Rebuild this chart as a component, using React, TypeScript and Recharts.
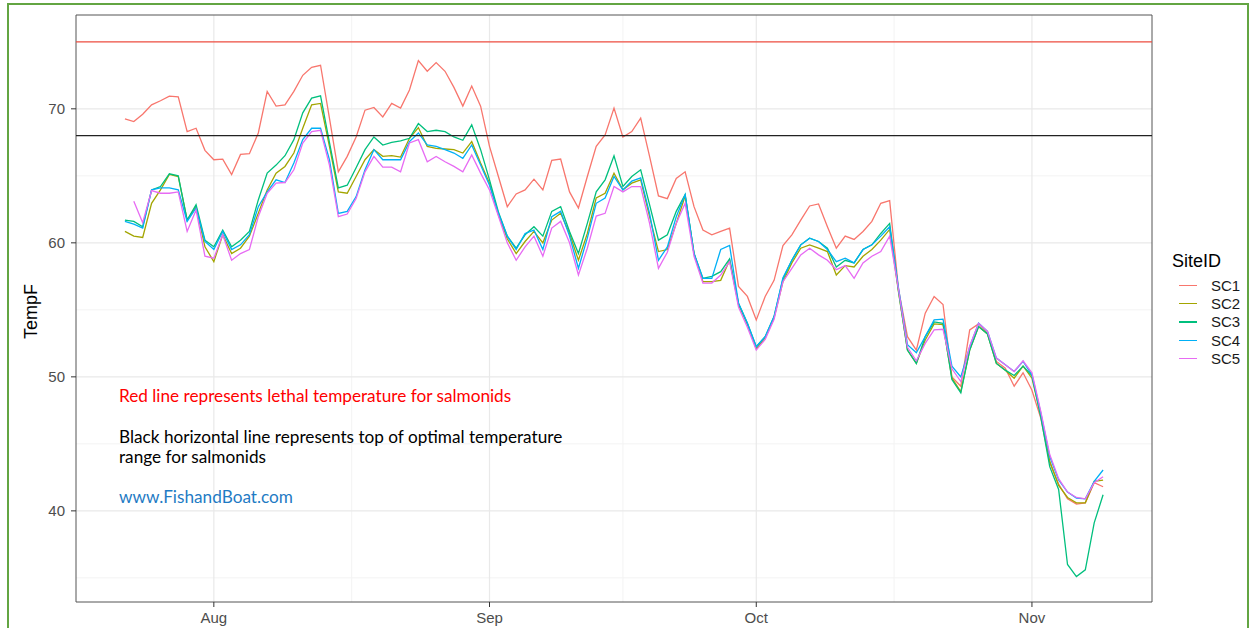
import React from 'react';
import {
  LineChart,
  Line,
  XAxis,
  YAxis,
  CartesianGrid,
  ReferenceLine,
  ReferenceArea,
} from 'recharts';

// daily mean water temperature (F) per site, 22 Jul .. 9 Nov
const sc1 = [
  69.25, 69.05, 69.6, 70.3, 70.6, 70.95, 70.9, 68.3, 68.55, 66.9,
  66.2, 66.25, 65.1, 66.6, 66.65, 68.2, 71.3, 70.2, 70.3, 71.3,
  72.5, 73.1, 73.25, 69.3, 65.3, 66.45, 67.9, 69.9, 70.1, 69.4,
  70.4, 70.05, 71.4, 73.6, 72.8, 73.45, 72.8, 71.6, 70.2, 71.7,
  70.2, 67.2, 64.95, 62.7, 63.65, 63.95, 64.75, 63.95, 66.15, 66.25,
  63.8, 62.6, 64.95, 67.2, 68.05, 70.05, 67.9, 68.3, 69.3, 66.45,
  63.5, 63.3, 64.8, 65.3, 62.7, 60.95, 60.6, 60.85, 61.1, 56.75,
  56.0, 54.25, 56.0, 57.2, 59.8, 60.6, 61.7, 62.75, 62.9, 61.2,
  59.6, 60.5, 60.25, 60.85, 61.6, 62.95, 63.15, 56.5, 53.0, 52.0,
  54.75, 56.0, 55.4, 50.0, 49.3, 53.5, 53.95, 53.25, 51.15, 50.65,
  49.3, 50.3, 49.0, 46.9, 43.6, 42.0, 40.9, 40.5, 40.6, 42.1,
  41.8,
];

const sc2 = [
  60.85, 60.5, 60.4, 62.95, 63.95, 65.1, 64.95, 61.7, 62.7, 59.7,
  58.6, 60.6, 59.2, 59.6, 60.5, 62.2, 63.95, 65.2, 65.7, 66.7,
  68.55, 70.3, 70.4, 67.2, 63.8, 63.7, 64.95, 66.2, 66.95, 66.45,
  66.5, 66.4, 67.8, 68.6, 67.2, 67.05, 67.0, 66.95, 66.7, 67.55,
  65.95, 64.45, 62.1, 60.3, 59.2, 60.1, 60.85, 60.0, 61.7, 62.2,
  60.7, 58.7, 60.7, 63.35, 63.7, 65.2, 63.95, 64.45, 64.7, 61.95,
  59.35, 59.5, 61.45, 63.5, 59.2, 57.1, 57.1, 57.2, 58.7, 55.4,
  53.9, 52.1, 52.9, 54.4, 57.1, 58.5, 59.6, 59.85, 59.6, 59.35,
  57.6, 58.3, 58.2, 59.0, 59.5, 60.2, 61.0, 56.3, 52.0, 51.0,
  52.75, 53.95, 53.9, 49.9, 48.9, 52.0, 53.75, 53.2, 51.0, 50.5,
  49.9, 50.8, 49.9, 47.1, 43.7, 41.9, 41.0, 40.6, 40.6, 42.2,
  42.3,
];

const sc3 = [
  61.7, 61.6, 61.2, 63.95, 64.2, 65.15, 65.0, 61.7, 62.85, 60.2,
  59.7, 60.95, 59.7, 60.2, 60.85, 63.2, 65.2, 65.8, 66.5, 67.7,
  69.7, 70.8, 70.97, 67.5, 64.1, 64.3, 65.6, 66.95, 67.9, 67.3,
  67.5, 67.6, 67.8, 68.9, 68.3, 68.4, 68.3, 67.9, 67.65, 68.8,
  66.95, 64.7, 62.3, 60.5, 59.6, 60.6, 61.2, 60.5, 62.35, 62.7,
  60.85, 59.2, 61.45, 63.8, 64.7, 66.5, 64.2, 64.95, 65.45, 62.85,
  60.2, 60.6, 62.35, 63.6, 59.2, 57.35, 57.5, 57.85, 58.8, 55.5,
  54.0, 52.25, 53.0, 54.5, 57.3, 58.7, 59.85, 60.35, 60.1, 59.6,
  58.2, 58.7, 58.5, 59.5, 59.85, 60.7, 61.45, 56.4, 52.0, 51.0,
  53.0, 54.1, 54.0, 49.8, 48.8, 52.0, 53.75, 53.2, 51.0, 50.5,
  50.1, 50.8, 50.1, 47.0, 43.3, 41.6, 36.0, 35.1, 35.6, 39.1,
  41.2,
];

const sc4 = [
  61.6, 61.4, 61.1, 63.95, 64.1, 64.1, 63.95, 61.6, 62.6, 60.1,
  59.5, 60.85, 59.5, 59.85, 60.6, 62.7, 63.8, 64.7, 64.5, 65.95,
  67.7, 68.55, 68.55, 66.2, 62.2, 62.35, 63.45, 65.45, 66.95, 66.2,
  66.2, 66.2, 67.55, 68.2, 67.3, 67.2, 66.95, 66.7, 66.3, 67.3,
  65.8, 64.3, 62.2, 60.5, 59.5, 60.7, 60.95, 59.5, 61.95, 62.35,
  60.5, 58.1, 60.35, 62.95, 63.35, 64.95, 63.95, 64.6, 64.85, 62.2,
  58.7, 59.7, 61.95, 63.6, 59.2, 57.35, 57.35, 59.5, 59.8, 55.5,
  54.0, 52.25, 53.0, 54.5, 57.4, 58.7, 59.85, 60.35, 60.1, 59.5,
  58.6, 58.85, 58.5, 59.5, 59.85, 60.5, 61.2, 56.6, 52.4, 51.8,
  53.0, 54.25, 54.3, 50.8, 50.0, 52.25, 54.0, 53.4, 51.4, 50.9,
  50.4, 51.15, 50.15, 47.3, 44.05, 42.3, 41.4, 40.95, 40.9, 42.2,
  43.05,
];

const sc5 = [
  null, 63.1, 61.5, 63.9, 63.7, 63.7, 63.8, 60.85, 62.45, 59.0,
  58.85, 60.6, 58.7, 59.2, 59.5, 61.95, 63.7, 64.45, 64.5, 65.45,
  67.45, 68.3, 68.4, 65.8, 61.95, 62.15, 63.3, 65.3, 66.45, 65.65,
  65.65, 65.3, 67.45, 67.7, 66.05, 66.45, 66.05, 65.7, 65.3, 66.55,
  65.2, 63.95, 62.0, 60.0, 58.7, 59.7, 60.5, 59.0, 61.1, 61.6,
  60.0, 57.6, 59.6, 62.0, 62.2, 64.2, 63.8, 64.2, 64.2, 61.45,
  58.1, 59.3, 61.45, 62.95, 59.0, 57.0, 57.0, 57.6, 58.6, 55.2,
  53.7, 52.0, 52.8, 54.3, 57.1, 58.1, 59.1, 59.6, 59.1, 58.7,
  58.0, 58.3, 57.35, 58.5, 59.0, 59.35, 60.5, 56.5, 52.2, 51.2,
  52.5, 53.5, 53.55, 50.6, 49.65, 52.3, 54.0, 53.4, 51.4, 50.9,
  50.4, 51.2, 50.3, 47.4, 44.2, 42.4, 41.4, 41.0, 40.9, 42.1,
  42.55,
];

// x is days since 22 Jul; month starts sit at these offsets
const monthTicks = [10, 41, 71, 102];
const monthLabels = ['Aug', 'Sep', 'Oct', 'Nov'];
const monthMinor = [25.5, 56, 86.5];

const tempTicks = [40, 50, 60, 70];
const tempMinor = [35, 45, 55, 65, 75];

const lethalTemp = 75;
const optimalTop = 68;

const series = [
  { key: 'SC1', values: sc1, color: '#F8766D' },
  { key: 'SC2', values: sc2, color: '#A3A500' },
  { key: 'SC3', values: sc3, color: '#00BF7D' },
  { key: 'SC4', values: sc4, color: '#00B0F6' },
  { key: 'SC5', values: sc5, color: '#E76BF3' },
];

const data = sc1.map((_, i) => {
  const row: Record<string, number | null> = { day: i };
  series.forEach((s) => {
    row[s.key] = s.values[i];
  });
  return row;
});

const xDomain = [-5.5, 115.5];
const yDomain = [33.2, 77.0];

const axisText = { fontFamily: 'Liberation Sans, Arial, sans-serif', fontSize: 15, fill: '#4D4D4D' };
const noteFont = 'Lato, "Open Sans", sans-serif';

function TempTitle(props: any) {
  const { x, y, height } = props.viewBox;
  const cx = x + 37;
  const cy = y + height / 2 + 3;
  return (
    <text
      x={cx}
      y={cy}
      transform={`rotate(-90, ${cx}, ${cy})`}
      textAnchor="middle"
      style={{ fontFamily: 'Liberation Sans, Arial, sans-serif', fontSize: 18, fill: '#000' }}
    >
      TempF
    </text>
  );
}

export default function App() {
  return (
    <div
      style={{
        position: 'absolute',
        left: 0,
        top: 0,
        width: 1250,
        height: 628,
        overflow: 'hidden',
        background: '#fff',
      }}
    >
      <div
        style={{
          position: 'absolute',
          left: 7,
          top: 3,
          width: 1238,
          height: 660,
          border: '2px solid #63A542',
        }}
      />
      <LineChart
        width={1250}
        height={628}
        data={data}
        margin={{ top: 15, right: 98, bottom: 0, left: 0 }}
        style={{ position: 'absolute', left: 0, top: 0 }}
      >
        <CartesianGrid
          horizontalValues={tempMinor}
          verticalValues={monthMinor}
          stroke="#F3F3F3"
          strokeWidth={1}
        />
        <CartesianGrid
          horizontalValues={tempTicks}
          verticalValues={monthTicks}
          stroke="#E9E9E9"
          strokeWidth={1.2}
        />
        <XAxis
          dataKey="day"
          type="number"
          domain={xDomain}
          allowDataOverflow
          ticks={monthTicks}
          tickFormatter={(v: number) => monthLabels[monthTicks.indexOf(v)]}
          axisLine={false}
          tickLine={{ stroke: '#333' }}
          tickSize={5}
          tickMargin={5}
          height={26}
          tick={axisText}
        />
        <YAxis
          type="number"
          domain={yDomain}
          allowDataOverflow
          ticks={tempTicks}
          axisLine={false}
          tickLine={{ stroke: '#333' }}
          tickSize={5}
          tickMargin={6}
          width={76}
          tick={axisText}
          label={TempTitle}
        />
        {series.map((s) => (
          <Line
            key={s.key}
            dataKey={s.key}
            type="linear"
            stroke={s.color}
            strokeWidth={1.3}
            dot={false}
            activeDot={false}
            isAnimationActive={false}
          />
        ))}
        <ReferenceLine y={lethalTemp} stroke="#EF4F42" strokeWidth={1.3} />
        <ReferenceLine y={optimalTop} stroke="#222" strokeWidth={1.1} />
        <ReferenceArea
          x1={xDomain[0]}
          x2={xDomain[1]}
          y1={yDomain[0]}
          y2={yDomain[1]}
          fill="none"
          stroke="#555"
          strokeWidth={1}
        />
      </LineChart>

      {/* legend */}
      <div
        style={{
          position: 'absolute',
          left: 1172,
          top: 250,
          fontFamily: 'Liberation Sans, Arial, sans-serif',
          color: '#000',
        }}
      >
        <div style={{ fontSize: 18, lineHeight: '22px', marginBottom: 4 }}>SiteID</div>
        {series.map((s) => (
          <div key={s.key} style={{ display: 'flex', alignItems: 'center', height: 18.4 }}>
            <div style={{ width: 18, height: 1.3, background: s.color, margin: '0 14px 0 7px' }} />
            <span style={{ fontSize: 15, color: '#1a1a1a' }}>{s.key}</span>
          </div>
        ))}
      </div>

      {/* notes */}
      <div
        style={{
          position: 'absolute',
          left: 119,
          top: 386,
          fontFamily: noteFont,
          fontSize: 17.2,
          lineHeight: '20px',
          color: '#FF0000',
          whiteSpace: 'nowrap',
        }}
      >
        Red line represents lethal temperature for salmonids
      </div>
      <div
        style={{
          position: 'absolute',
          left: 119,
          top: 427,
          fontFamily: noteFont,
          fontSize: 17.2,
          lineHeight: '20px',
          color: '#000',
          whiteSpace: 'nowrap',
        }}
      >
        Black horizontal line represents top of optimal temperature
        <br />
        range for salmonids
      </div>
      <div
        style={{
          position: 'absolute',
          left: 119,
          top: 487,
          fontFamily: noteFont,
          fontSize: 17.2,
          lineHeight: '20px',
          color: '#1F7BC4',
          whiteSpace: 'nowrap',
        }}
      >
        www.FishandBoat.com
      </div>
    </div>
  );
}
